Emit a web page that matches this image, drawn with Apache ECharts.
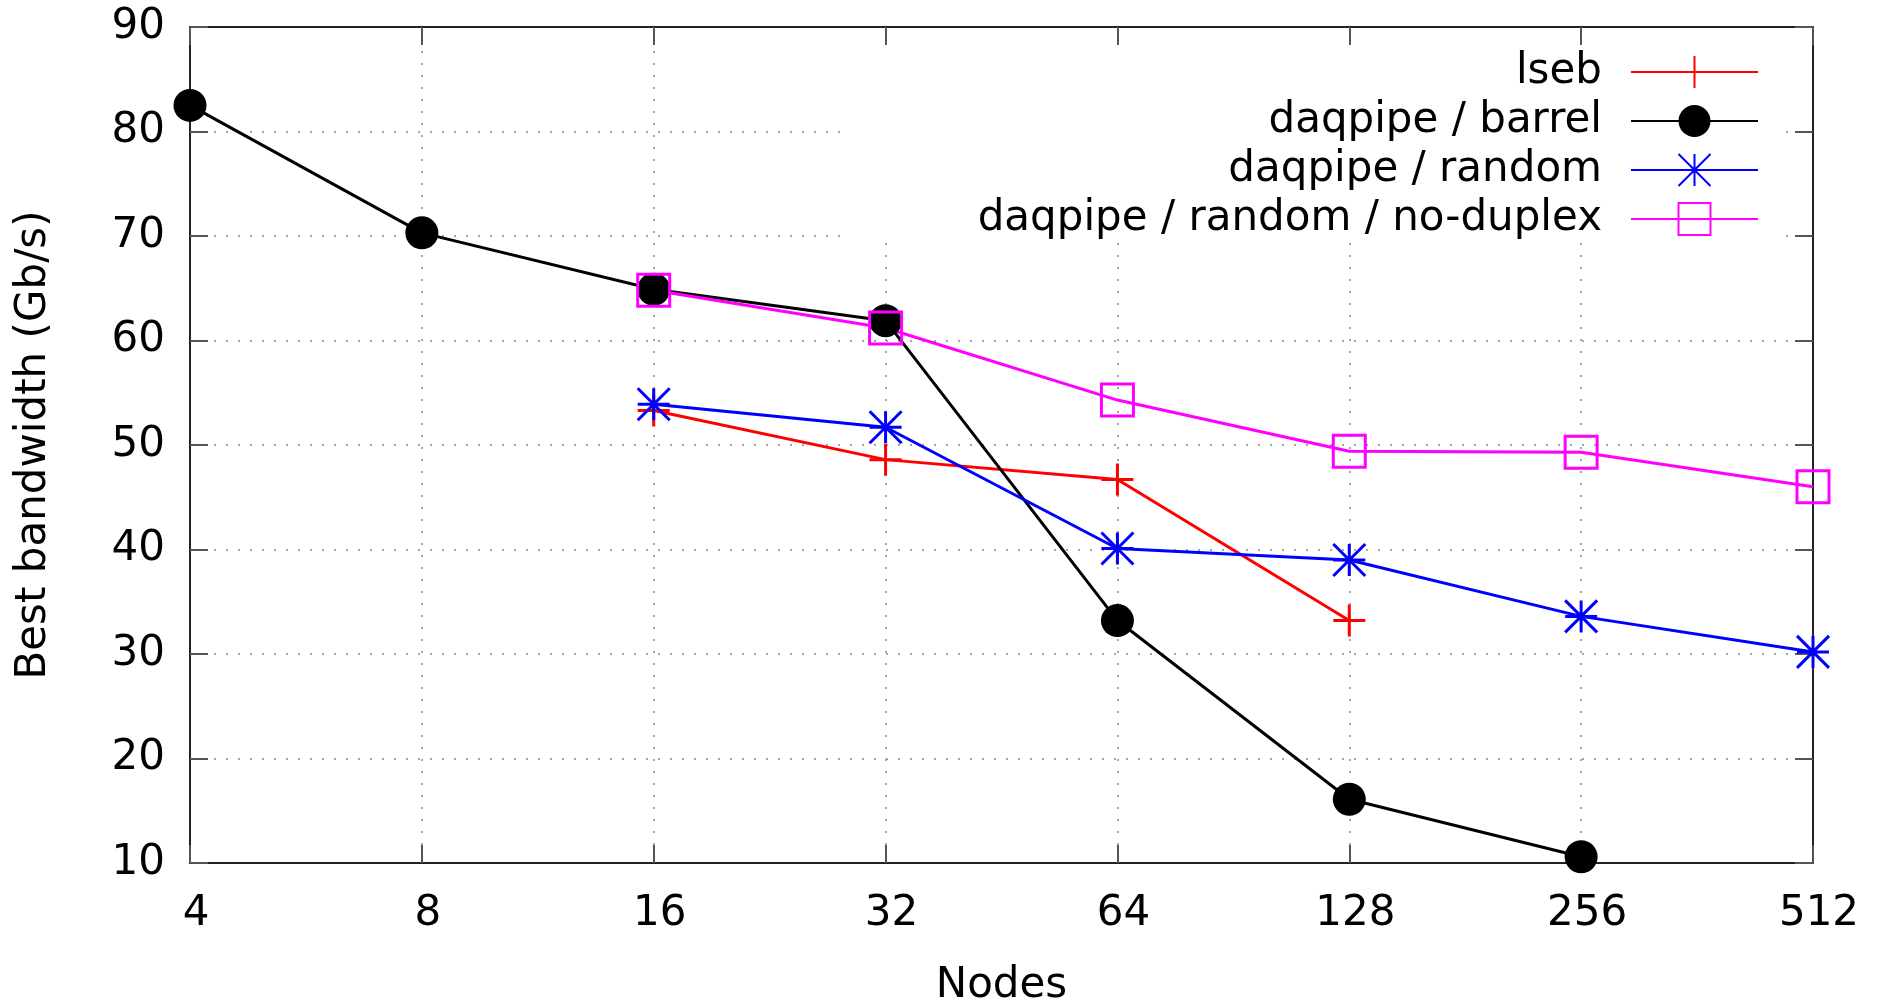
<!DOCTYPE html>
<html lang="en">
<head>
    <meta charset="UTF-8">
    <title>Best bandwidth vs nodes</title>
    <script src="https://cdn.jsdelivr.net/npm/echarts@6/dist/echarts.min.js"></script>
    <style>
        body { margin: 0; background: #fff; }
    </style>
</head>
<body>

<div style="height: 1006px;width: 1879px" id="chartBox"></div>

<script type="text/javascript">
    // data
    var nodes = ['4', '8', '16', '32', '64', '128', '256', '512'];
    var yTicks = [10, 90, 10]; // min, max, step
    var lseb = ['-', '-', 53.3, 48.6, 46.7, 33.2, '-', '-'];
    var barrel = [82.5, 70.3, 64.9, 61.9, 33.2, 16.1, 10.6, '-'];
    var random = ['-', '-', 53.9, 51.7, 40.1, 39.0, 33.6, 30.2];
    var noDuplex = ['-', '-', 64.8, 61.2, 54.3, 49.4, 49.3, 46.0];

    var FONT = 'DejaVu Sans';
    var FS = 42;
    var PLUS = 'path://M16,0 L16,32 M0,16 L32,16';
    var STAR = 'path://M16,0 L16,32 M0,16 L32,16 M0,0 L32,32 M32,0 L0,32';
    var SQUARE = 'path://M0,0 L32,0 L32,32 L0,32 Z';

    var myChart = echarts.init(document.getElementById('chartBox'));

    function oneLegend(name, top) {
        return {
            data: [name],
            right: 120,
            top: top,
            orient: 'vertical',
            align: 'right',
            padding: 0,
            itemWidth: 127,
            itemHeight: 40,
            selectedMode: false,
            textStyle: {
                fontFamily: FONT, fontSize: FS, color: '#000',
                padding: [0, 24, 0, 0]
            }
        };
    }

    var option = {
        animation: false,
        backgroundColor: '#fff',
        grid: { left: 190, right: 66, top: 27, bottom: 143, outerBoundsMode: 'none' },
        // gnuplot key box hides the grid behind the legend
        graphic: [{
            type: 'rect', z: 1, silent: true,
            shape: { x: 845, y: 48, width: 940, height: 195 },
            style: { fill: '#fff' }
        }],
        legend: [
            oneLegend('lseb', 51),
            oneLegend('daqpipe / barrel', 100),
            oneLegend('daqpipe / random', 149),
            oneLegend('daqpipe / random / no-duplex', 198)
        ],
        xAxis: [
            {
                type: 'category',
                data: nodes,
                boundaryGap: false,
                name: 'Nodes',
                nameLocation: 'middle',
                nameGap: 102,
                nameTextStyle: { fontFamily: FONT, fontSize: FS, color: '#000' },
                axisLine: { lineStyle: { color: '#222', width: 2 } },
                axisTick: { inside: true, length: 18, lineStyle: { color: '#555', width: 2 } },
                axisLabel: { fontFamily: FONT, fontSize: FS, color: '#000', margin: 30, padding: [0, 0, 0, 12] },
                splitLine: { show: true, lineStyle: { color: '#888', width: 1.5, type: [2, 10] } }
            },
            {
                type: 'category',
                data: nodes,
                boundaryGap: false,
                position: 'top',
                axisLine: { lineStyle: { color: '#222', width: 2 } },
                axisTick: { inside: true, length: 18, lineStyle: { color: '#555', width: 2 } },
                axisLabel: { show: false },
                splitLine: { show: false }
            }
        ],
        yAxis: [
            {
                type: 'value',
                min: yTicks[0],
                max: yTicks[1],
                interval: yTicks[2],
                name: 'Best bandwidth (Gb/s)',
                nameLocation: 'middle',
                nameGap: 135,
                nameTextStyle: { fontFamily: FONT, fontSize: FS, color: '#000' },
                axisLine: { show: true, lineStyle: { color: '#222', width: 2 } },
                axisTick: { show: true, inside: true, length: 18, lineStyle: { color: '#555', width: 2 } },
                axisLabel: { fontFamily: FONT, fontSize: FS, color: '#000', margin: 25 },
                splitLine: { show: true, lineStyle: { color: '#888', width: 1.5, type: [2, 10] } }
            },
            {
                type: 'value',
                min: yTicks[0],
                max: yTicks[1],
                interval: yTicks[2],
                position: 'right',
                axisLine: { show: true, lineStyle: { color: '#222', width: 2 } },
                axisTick: { show: true, inside: true, length: 18, lineStyle: { color: '#555', width: 2 } },
                axisLabel: { show: false },
                splitLine: { show: false }
            }
        ],
        series: [
            {
                name: 'lseb',
                type: 'line',
                data: lseb,
                symbol: PLUS,
                symbolSize: 32,
                showAllSymbol: true,
                lineStyle: { color: '#ff0000', width: 3 },
                itemStyle: { color: '#ff0000', borderColor: '#ff0000', borderWidth: 3 }
            },
            {
                name: 'daqpipe / barrel',
                type: 'line',
                data: barrel,
                symbol: 'circle',
                symbolSize: 33,
                showAllSymbol: true,
                lineStyle: { color: '#000', width: 3 },
                itemStyle: { color: '#000', borderWidth: 0 }
            },
            {
                name: 'daqpipe / random',
                type: 'line',
                data: random,
                symbol: STAR,
                symbolSize: 32,
                showAllSymbol: true,
                lineStyle: { color: '#0000ff', width: 3 },
                itemStyle: { color: '#0000ff', borderColor: '#0000ff', borderWidth: 3 }
            },
            {
                name: 'daqpipe / random / no-duplex',
                type: 'line',
                data: noDuplex,
                symbol: SQUARE,
                symbolSize: 32,
                showAllSymbol: true,
                lineStyle: { color: '#ff00ff', width: 3 },
                itemStyle: { color: 'none', borderColor: '#ff00ff', borderWidth: 3 }
            }
        ]
    };

    myChart.setOption(option);
</script>

</body>
</html>
